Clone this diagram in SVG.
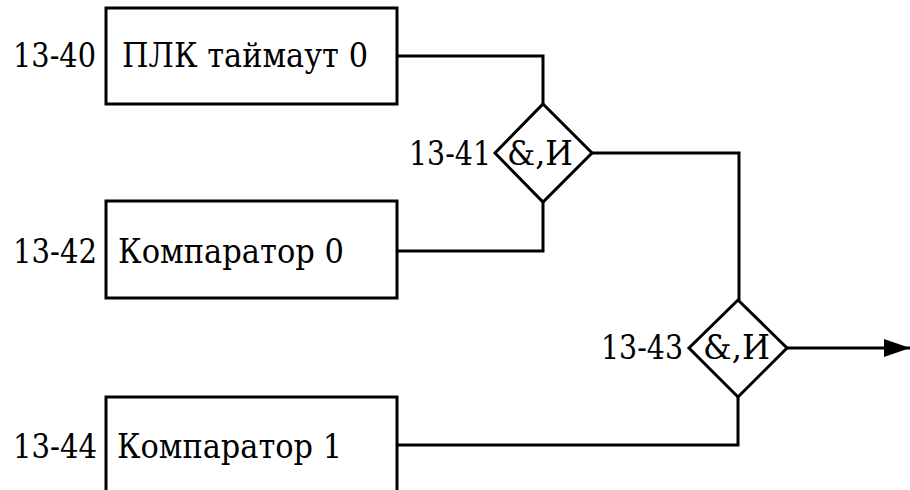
<svg xmlns="http://www.w3.org/2000/svg" width="910" height="490" viewBox="0 0 910 490">
  <style>
    .box { fill: #ffffff; stroke: #000000; stroke-width: 3; }
    .gate { fill: #ffffff; stroke: #000000; stroke-width: 3; stroke-linejoin: miter; }
    .wire { fill: none; stroke: #000000; stroke-width: 3; }
    .lbl { font-family: 'DejaVu Serif', 'Liberation Serif', serif; font-size: 33px; fill: #000000; }
  </style>
  <defs>
    <marker id="arrow" markerUnits="userSpaceOnUse" markerWidth="28" markerHeight="20" refX="26" refY="9" orient="auto">
      <path d="M0,0 L26,9 L0,18 Z" fill="#000000"/>
    </marker>
  </defs>

  <g id="connectors">
    <polyline class="wire" points="397,56 543,56 543,104"/>
    <polyline class="wire" points="397,251 543,251 543,202"/>
    <polyline class="wire" points="592,153 739,153 739,300"/>
    <polyline class="wire" points="397,445 738,445 738,397"/>
    <line class="wire" x1="787" y1="348" x2="910" y2="348" marker-end="url(#arrow)"/>
  </g>

  <g id="n13-40">
    <rect class="box" x="106" y="8" width="291" height="96"/>
    <text class="lbl" x="13" y="67" textLength="83" lengthAdjust="spacingAndGlyphs">13-40</text>
    <text class="lbl" x="122" y="67" textLength="246" lengthAdjust="spacingAndGlyphs">ПЛК таймаут 0</text>
  </g>

  <g id="n13-42">
    <rect class="box" x="106" y="201" width="291" height="97"/>
    <text class="lbl" x="13" y="263" textLength="84" lengthAdjust="spacingAndGlyphs">13-42</text>
    <text class="lbl" x="118" y="263" textLength="226" lengthAdjust="spacingAndGlyphs">Компаратор 0</text>
  </g>

  <g id="n13-44">
    <rect class="box" x="106" y="397" width="291" height="110"/>
    <text class="lbl" x="13" y="458" textLength="84" lengthAdjust="spacingAndGlyphs">13-44</text>
    <text class="lbl" x="117" y="458" textLength="225" lengthAdjust="spacingAndGlyphs">Компаратор 1</text>
  </g>

  <g id="n13-41">
    <polygon class="gate" points="543,104 592,153 543,202 495,153"/>
    <text class="lbl" x="409" y="165" textLength="82" lengthAdjust="spacingAndGlyphs">13-41</text>
    <text class="lbl" x="507" y="165" textLength="66" lengthAdjust="spacingAndGlyphs">&amp;,И</text>
  </g>

  <g id="n13-43">
    <polygon class="gate" points="738,300 787,348 738,397 689,348"/>
    <text class="lbl" x="601" y="359" textLength="82" lengthAdjust="spacingAndGlyphs">13-43</text>
    <text class="lbl" x="703" y="359" textLength="67" lengthAdjust="spacingAndGlyphs">&amp;,И</text>
  </g>
</svg>
